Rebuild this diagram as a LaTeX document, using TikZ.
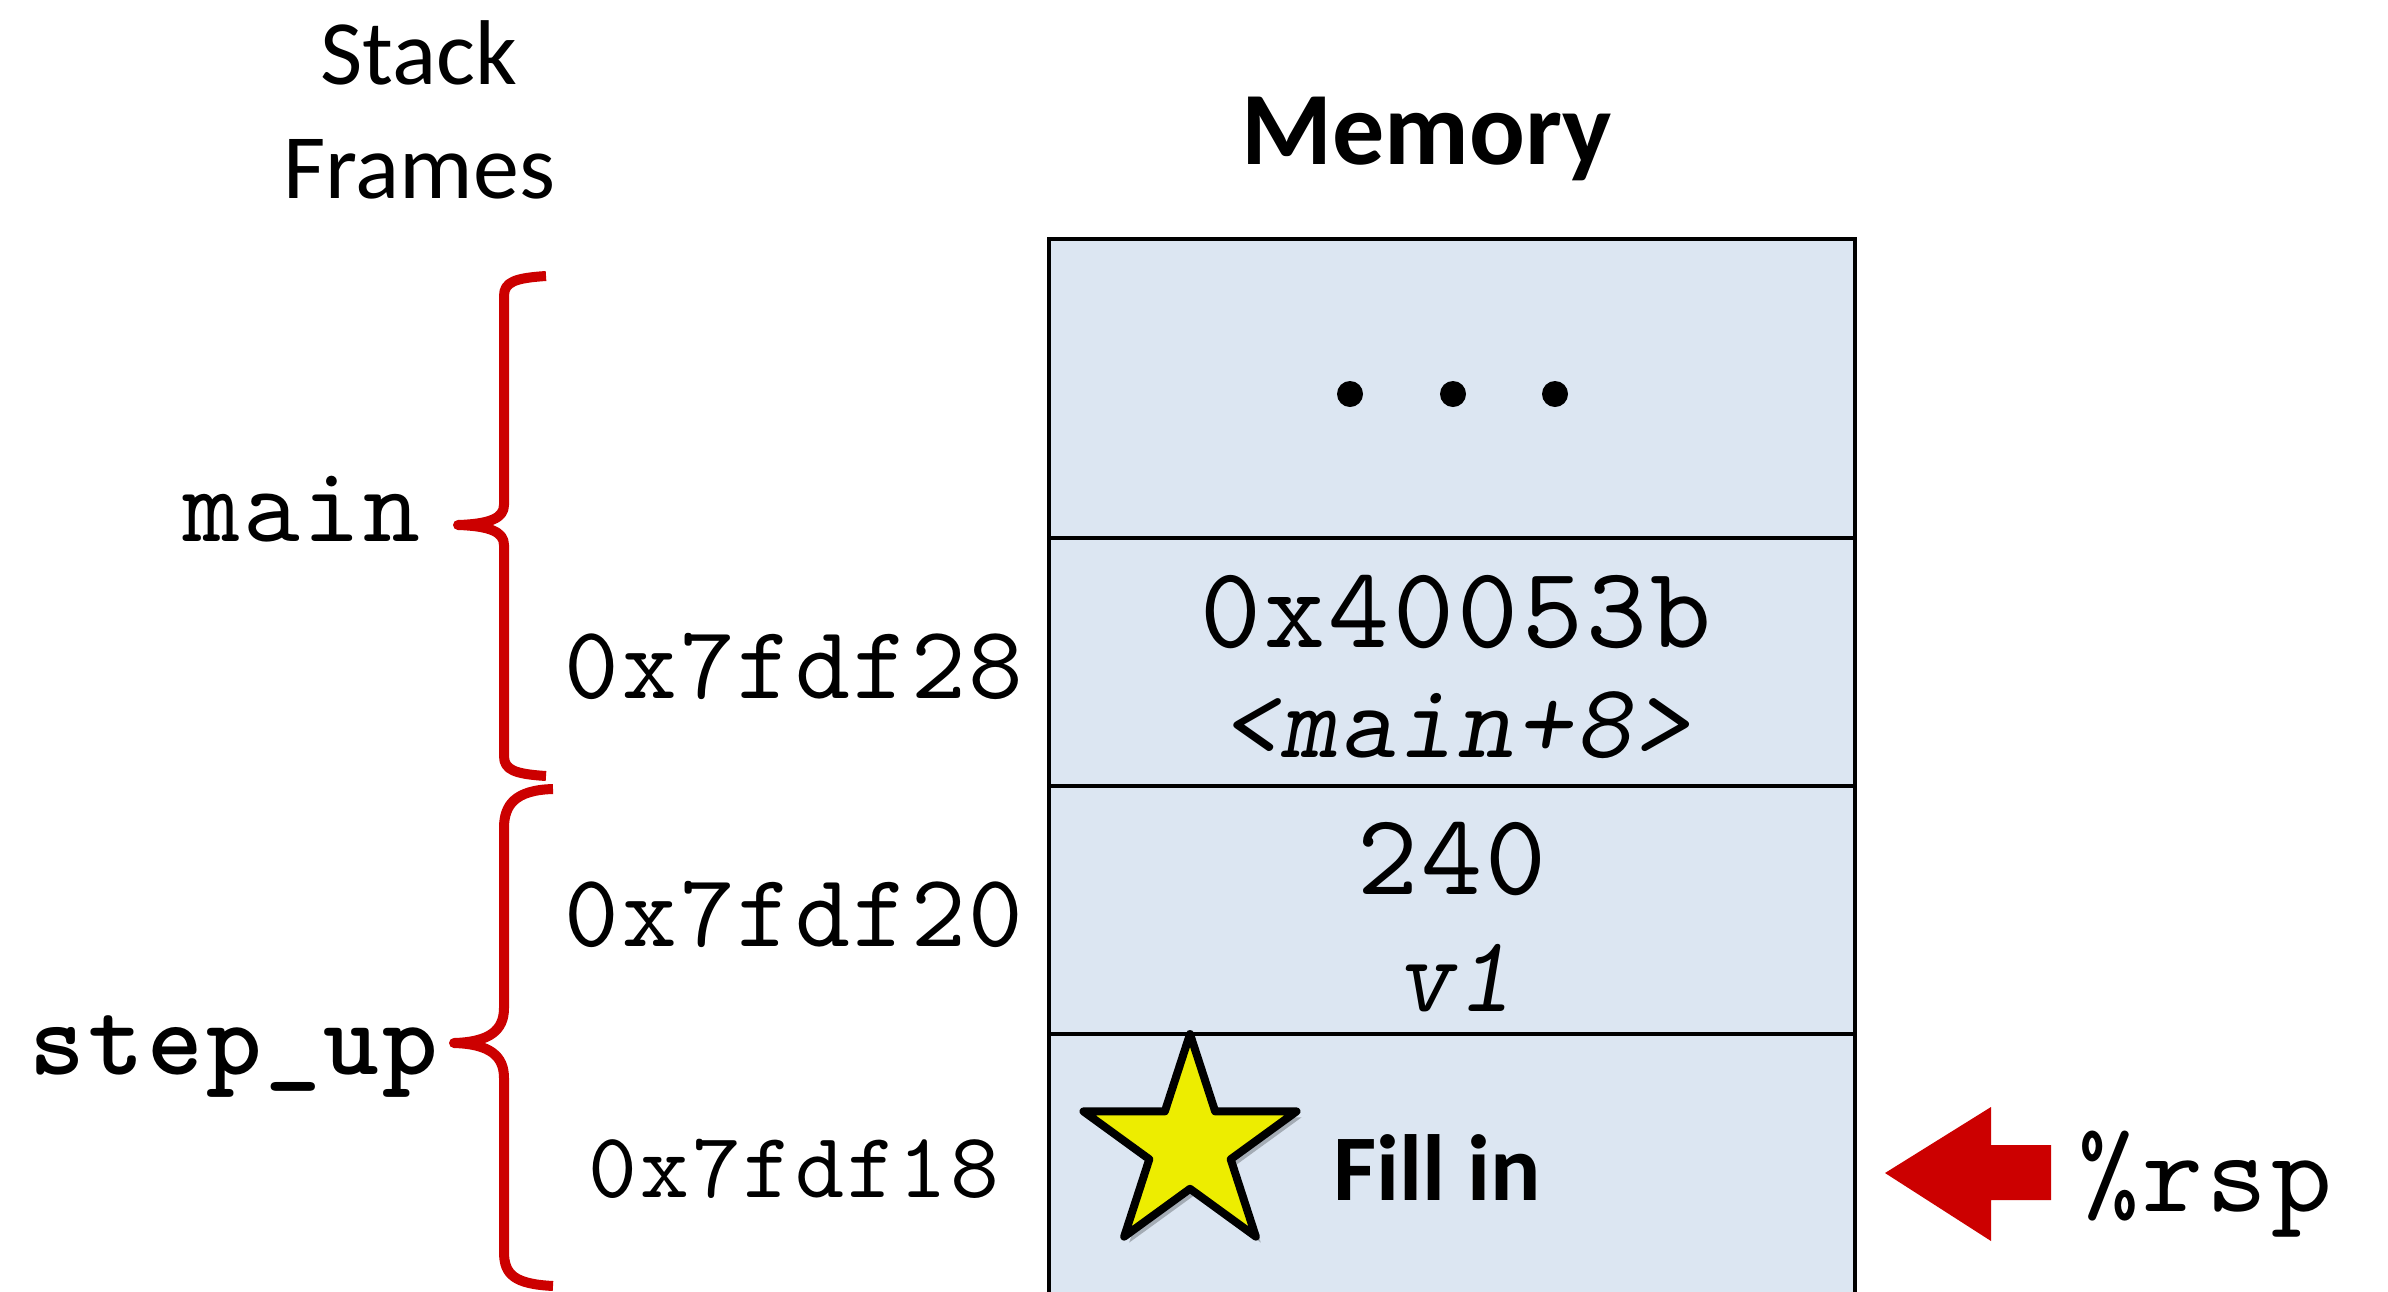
\documentclass[tikz,border=0pt]{standalone}
\usepackage{fontspec}
\setmainfont{Carlito}
\newfontfamily\cmono{lmmono10-regular.otf}[ItalicFont=lmmonoslant10-regular.otf,BoldFont=lmmonolt10-bold.otf,LetterSpace=3]
\usetikzlibrary{shapes.geometric}
\definecolor{memfill}{HTML}{DCE6F2}
\definecolor{bred}{HTML}{CC0000}
\definecolor{staryellow}{HTML}{EDED00}
\begin{document}
\begin{tikzpicture}[x=0.5pt,y=-0.5pt,
  cell/.style={draw=black,line width=2pt,fill=memfill,inner sep=0pt,minimum width=403pt},
  mono/.style={font=\cmono\fontsize{#1}{#1}\selectfont,anchor=base,inner sep=0pt},
  bracestyle/.style={draw=bred,line width=5pt,line join=round},
  sans/.style={font=\fontsize{#1}{#1}\selectfont,anchor=base,inner sep=0pt}]
\clip (0,0) rectangle (2388,1291);
\fill[white] (0,0) rectangle (2388,1291);

% memory cells
\node[cell,minimum height=149.5pt] (c0) at (1452,388.5) {};
\node[cell,minimum height=124pt] (c1) at (1452,662) {};
\node[cell,minimum height=124pt] (c2) at (1452,910) {};
\node[cell,minimum height=170pt] (c3) at (1452,1204) {};

% dots
\fill (1350,394) circle[radius=13];
\fill (1453,394) circle[radius=13];
\fill (1555,394) circle[radius=13];

% headers
\node[sans=46] (sk) at (419,84) {Stack};
\node[sans=46] (fr) at (419,198) {Frames};
\node[sans=52,font=\fontsize{52}{52}\selectfont\bfseries] (mem) at (1427,164) {Memory};

% cell contents
\node[mono=58] (v0) at (1456,647) {0x40053b};
\node[mono=53,font=\cmono\itshape\fontsize{53}{53}\selectfont] (v0n) at (1456,757) {<main+8>};
\node[mono=58] (v1) at (1452,894) {240};
\node[mono=54,font=\cmono\itshape\fontsize{54}{54}\selectfont] (v1n) at (1455,1011) {v1};

% addresses
\node[mono=52] (a28) at (794,698) {0x7fdf28};
\node[mono=52] (a20) at (794,946) {0x7fdf20};
\node[mono=46.5] (a18) at (794,1197) {0x7fdf18};

% frame labels
\node[mono=54] (lmain) at (302,541) {main};
\node[mono=53,font=\cmono\bfseries\fontsize{53}{53}\selectfont] (lstep) at (234,1074) {step\_up};

% braces
\draw[bracestyle] (546,276) .. controls (515,278) and (504,282) .. (504,296) -- (504,505)
  .. controls (504,518) and (490,524) .. (458,525) .. controls (490,526) and (504,532) .. (504,545)
  -- (504,756) .. controls (504,770) and (515,774) .. (546,776);
\draw[bracestyle] (553,789) .. controls (515,790) and (504,805) .. (504,828) -- (504,1008)
  .. controls (504,1030) and (490,1042) .. (454,1043) .. controls (490,1044) and (504,1056) .. (504,1078)
  -- (504,1252) .. controls (504,1275) and (515,1284) .. (553,1286);

% star with shadow
\node[star,star points=5,star point ratio=2.618,minimum size=112pt,inner sep=0pt,
  fill=black,opacity=0.25,line join=round] at (1195,1152) {};
\node[star,star points=5,star point ratio=2.618,minimum size=112pt,inner sep=0pt,
  draw=black,line width=4pt,fill=staryellow,line join=round] (star) at (1190,1146) {};
\node[sans=47,font=\fontsize{47}{47}\selectfont\bfseries,anchor=base west] (fill) at (1333,1200) {Fill in};

% rsp arrow
\coordinate (tip) at (1885,1173);
\fill[bred] (tip) -- (1991,1107) -- (1991,1145) -- (2051,1145) -- (2051,1200) -- (1991,1200) -- (1991,1241) -- cycle;
\node[mono=58] (rsp) at (2205,1211) {\%rsp};
\end{tikzpicture}
\end{document}
